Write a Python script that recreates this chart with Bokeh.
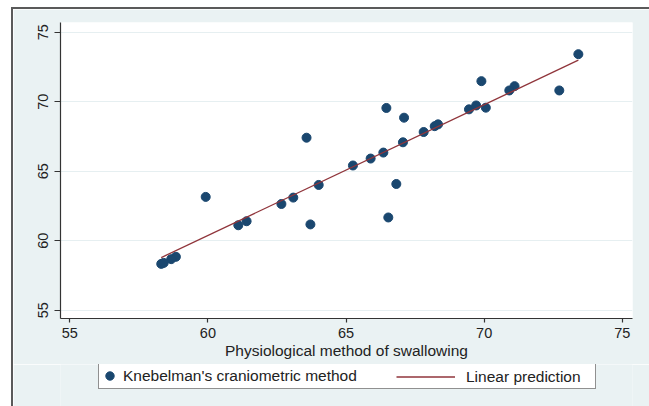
import numpy as np
from bokeh.plotting import figure
from bokeh.layouts import column
from bokeh.models import Range1d, Legend, LegendItem, FixedTicker
from bokeh.core.properties import value
from bokeh.embed import file_html
from bokeh.resources import INLINE

# Data
physiological = [73.41, 69.90, 71.10, 70.91, 72.72, 66.46, 67.10, 69.45, 69.71, 70.06,
                 63.57, 67.81, 68.21, 68.33, 67.06, 66.35, 65.89, 65.25, 64.01, 63.09,
                 62.66, 66.82, 59.92, 66.53, 63.71, 61.10, 61.40, 58.84, 58.67, 58.31, 58.40]
craniometric = [73.42, 71.48, 71.12, 70.81, 70.81, 69.55, 68.85, 69.45, 69.73, 69.57,
                67.41, 67.82, 68.24, 68.37, 67.08, 66.34, 65.91, 65.41, 64.01, 63.10,
                62.64, 64.08, 63.15, 61.67, 61.17, 61.11, 61.40, 58.84, 58.67, 58.33, 58.40]
x_ticks = [55, 60, 65, 70, 75]
y_ticks = [55, 60, 65, 70, 75]
x_title = "Physiological method of swallowing"
series_scatter = "Knebelman's craniometric method"
series_fit = "Linear prediction"

FONT = "Liberation Sans"
BG = "#EAF2F3"
NAVY = "#1A476F"
MAROON = "#90353B"

p = figure(width=636, height=355, output_backend="svg", toolbar_location=None,
           x_range=Range1d(54.663, 75.37), y_range=Range1d(54.4, 75.7),
           min_border_left=47, min_border_right=17, min_border_top=13, min_border_bottom=46,
           background_fill_color="white", border_fill_color=BG, outline_line_color=None)

# grid
p.xgrid.grid_line_color = None
p.ygrid.grid_line_color = "#E6EFF1"
p.ygrid.grid_line_width = 1.2
p.ygrid.ticker = FixedTicker(ticks=y_ticks)

for ax, ticks in ((p.xaxis[0], x_ticks), (p.yaxis[0], y_ticks)):
    ax.ticker = FixedTicker(ticks=ticks)
    ax.minor_tick_line_color = None
    ax.major_tick_in = 0
    ax.axis_line_color = "#333333"
    ax.axis_line_width = 1.2
    ax.major_tick_line_color = "#333333"
    ax.major_tick_line_width = 1.2
    ax.major_label_text_font = FONT
    ax.major_label_text_font_size = "14.5px"
    ax.major_label_text_color = "#222222"

p.xaxis.major_tick_out = 4
p.xaxis.major_label_standoff = 5
p.yaxis.major_tick_out = 6
p.yaxis.major_label_standoff = 6
p.yaxis.major_label_orientation = "vertical"

p.xaxis.axis_label = x_title
p.xaxis.axis_label_text_font = FONT
p.xaxis.axis_label_text_font_size = "15.5px"
p.xaxis.axis_label_text_font_style = "normal"
p.xaxis.axis_label_text_color = "#222222"
p.xaxis.axis_label_standoff = 1

# linear fit (OLS) computed from the data
xs = np.array(physiological)
ys = np.array(craniometric)
slope, intercept = np.polyfit(xs, ys, 1)
fit_x = [xs.min(), xs.max()]
fit_y = [slope * v + intercept for v in fit_x]

p.scatter(physiological, craniometric, size=9, marker="circle",
          fill_color=NAVY, line_color=NAVY)
p.line(fit_x, fit_y, line_color=MAROON, line_width=1.3)

# ---- legend strip (separate figure, so the legend is not clipped) ----
pl = figure(width=636, height=42, output_backend="svg", toolbar_location=None,
            x_range=Range1d(0, 1), y_range=Range1d(0, 1),
            x_axis_location=None, y_axis_location=None,
            min_border_left=47, min_border_right=17, min_border_top=0, min_border_bottom=0,
            background_fill_color=BG, border_fill_color=BG, outline_line_color=None)
pl.xgrid.grid_line_color = None
pl.ygrid.grid_line_color = None
# key renderers (their data lie outside this strip's ranges, only the keys show)
sc_key = pl.scatter(physiological, craniometric, size=9, marker="circle",
                    fill_color=NAVY, line_color=NAVY)
ln_key = pl.line(fit_x, fit_y, line_color=MAROON, line_width=1.6)

leg1 = Legend(items=[LegendItem(label=value(series_scatter), renderers=[sc_key])],
              location=(38, 17), orientation="horizontal",
              glyph_width=21, glyph_height=25, label_height=25, label_width=472,
              label_standoff=3, padding=0, margin=0, spacing=0,
              border_line_color="#222222", border_line_width=1,
              background_fill_color="white", background_fill_alpha=1,
              label_text_font=FONT, label_text_font_size="15.5px", label_text_color="#222222")
leg2 = Legend(items=[LegendItem(label=value(series_fit), renderers=[ln_key])],
              location=(336, 17), orientation="horizontal",
              glyph_width=59, glyph_height=25, label_height=25,
              label_standoff=11, padding=0, margin=0, spacing=0,
              border_line_alpha=0, background_fill_alpha=0,
              label_text_font=FONT, label_text_font_size="15.5px", label_text_color="#222222")
pl.add_layout(leg1, "center")
pl.add_layout(leg2, "center")

layout = column(p, pl, spacing=0,
                styles={"margin-left": "11px", "margin-top": "7px",
                        "border-left": "2px solid #5a5a5a",
                        "border-top": "2px solid #5a5a5a"})

open("out.html", "w").write(file_html(layout, INLINE))
